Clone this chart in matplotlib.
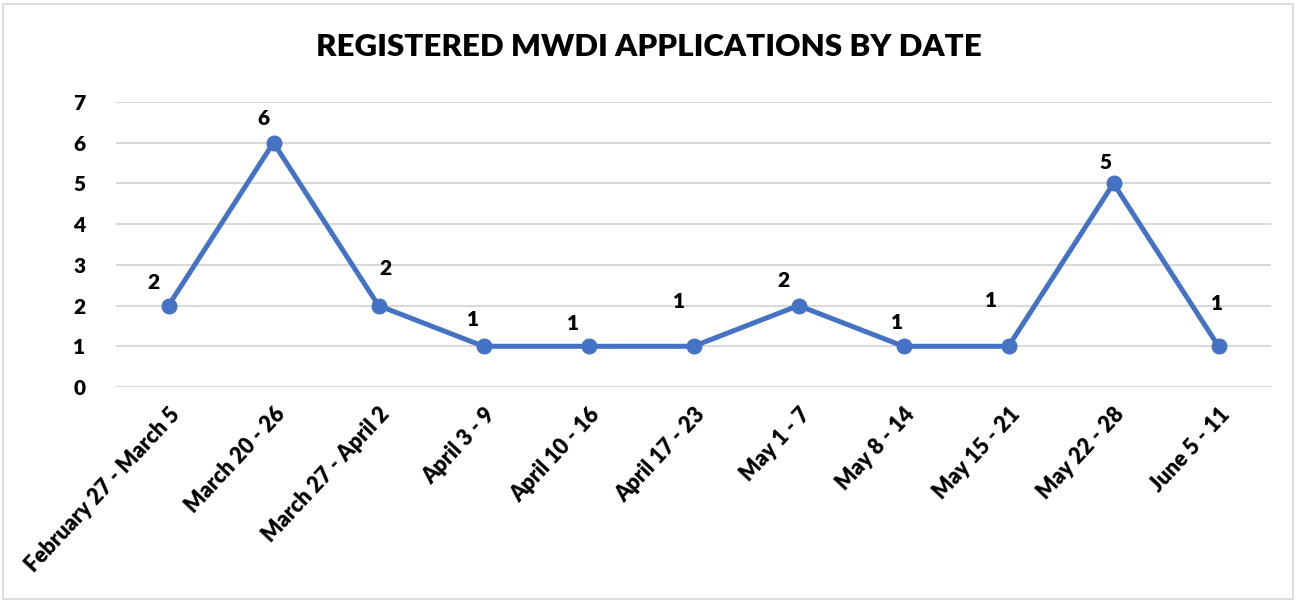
import matplotlib
matplotlib.use("Agg")
import matplotlib.pyplot as plt
from matplotlib.patches import Rectangle
from matplotlib.transforms import ScaledTranslation

categories = ["February 27 - March 5", "March 20 - 26", "March 27 - April 2",
              "April 3 - 9", "April 10 - 16", "April 17 - 23", "May 1 - 7",
              "May 8 - 14", "May 15 - 21", "May 22 - 28", "June 5 - 11"]
values = [2, 6, 2, 1, 1, 1, 2, 1, 1, 5, 1]
yticks = [0, 1, 2, 3, 4, 5, 6, 7]
title = "REGISTERED MWDI APPLICATIONS BY DATE"

# data-label placement offsets in pixels (dx, dy up), as laid out in the reference
label_offsets_px = [(-15, 23), (-10, 24), (7, 37), (-11, 27), (-15, 23), (-15, 45),
                    (-15, 25), (-7, 24), (-18, 46), (-8, 21), (-1, 43)]

plt.rcParams['font.family'] = ['Lato', 'DejaVu Sans']
W = "heavy"

fig = plt.figure(figsize=(12.98, 6.03), dpi=100)
ax = fig.add_axes([116/1298, 1-387/603, (1271-116)/1298, (387-102)/603])

x = list(range(len(categories)))
ax.plot(x, values, color="#4472C4", lw=3.6, marker="o", ms=10.5, zorder=3)
for xi, v, (dx, dy) in zip(x, values, label_offsets_px):
    ax.annotate(str(v), (xi, v), xytext=(dx * 0.72, dy * 0.72), textcoords="offset points",
                ha="center", va="center", fontsize=15, fontweight=W, color="black")

ax.set_xlim(-0.5, len(categories) - 0.5)
ax.set_ylim(0, 7)
ax.set_yticks(yticks)
ax.set_yticklabels([str(t) for t in yticks], fontsize=15, fontweight=W)
ax.set_xticks(x)
ax.set_xticklabels(categories, rotation=47, ha="right", rotation_mode="anchor",
                   fontsize=15.5, fontweight=W)
off = ScaledTranslation(6/100, 0, fig.dpi_scale_trans)
for lab in ax.get_xticklabels():
    lab.set_transform(lab.get_transform() + off)
ax.grid(axis="y", color="#d9d9d9", lw=1.5)
ax.set_axisbelow(True)
for s in ax.spines.values():
    s.set_visible(False)
ax.tick_params(axis="y", length=0, pad=22)
ax.tick_params(axis="x", length=0, pad=12)

fig.text(0.5, 1-47/603, title, ha="center", va="center", fontsize=22.5, fontweight=W)
fig.patches.append(Rectangle((3/1298, 4/603), 1290/1298, 595/603, transform=fig.transFigure,
                             fill=False, edgecolor="#d9d9d9", lw=1.2))

fig.savefig("out.png", dpi=100)
